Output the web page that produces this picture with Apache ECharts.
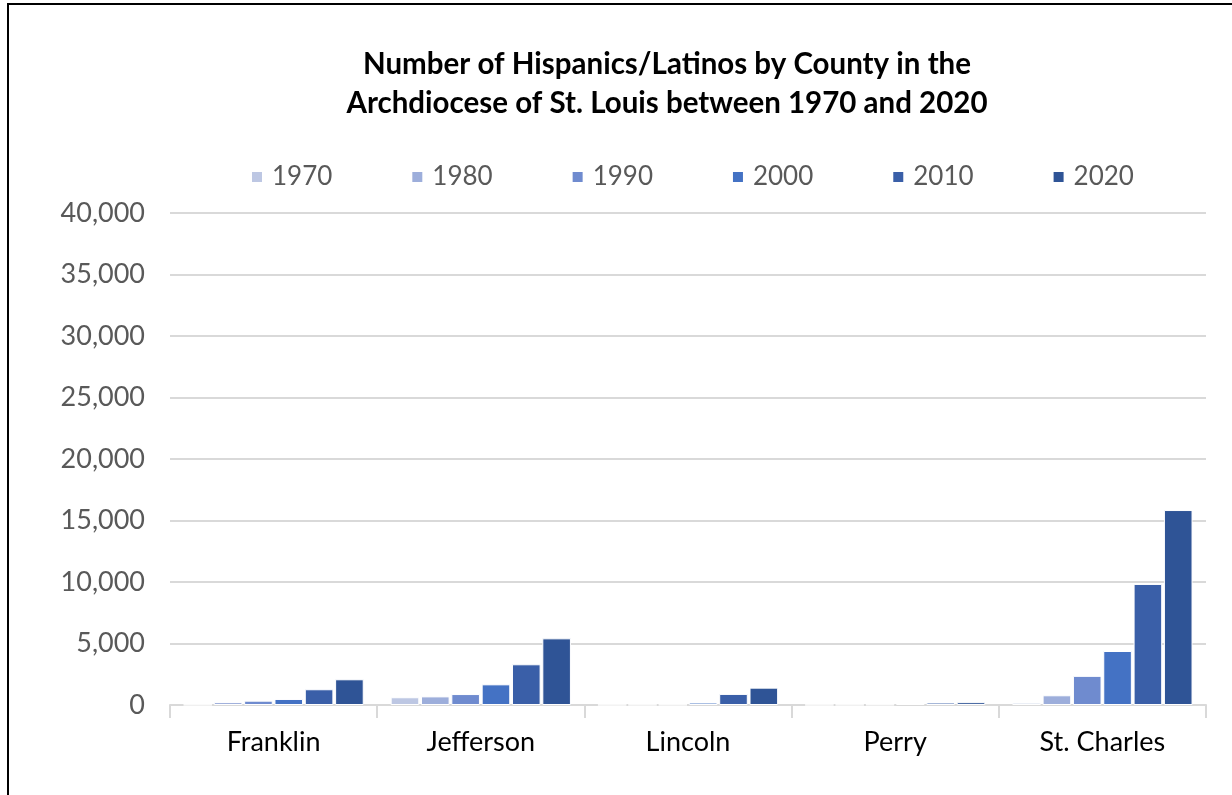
<!DOCTYPE html>
<html><head><meta charset="utf-8">
<script src="https://cdn.jsdelivr.net/npm/echarts@6/dist/echarts.min.js"></script>
<style>html,body{margin:0;padding:0;background:#fff}
#frame{position:absolute;left:7px;top:3px;width:1225px;height:792px;border-left:2px solid #000;border-top:2px solid #000;box-sizing:border-box}
#c{position:absolute;left:0;top:0;width:1232px;height:795px}</style>
</head><body><div id="frame"></div><div id="c"></div>
<script>
const categories = ['Franklin', 'Jefferson', 'Lincoln', 'Perry', 'St. Charles'];
const years = ['1970', '1980', '1990', '2000', '2010', '2020'];
const v1970 = [20, 630, 10, 10, 190];
const v1980 = [240, 700, 15, 15, 790];
const v1990 = [350, 890, 20, 30, 2370];
const v2000 = [490, 1680, 200, 80, 4390];
const v2010 = [1280, 3310, 900, 200, 9840];
const v2020 = [2090, 5420, 1410, 230, 15850];
const yTicks = [0, 5000, 10000, 15000, 20000, 25000, 30000, 35000, 40000];
const colors = ['#BDC7E3', '#9DAEDB', '#6F8BCF', '#4472C4', '#3A5FA8', '#2F5496'];
const seriesValues = [v1970, v1980, v1990, v2000, v2010, v2020];

const font = 'Lato, "Open Sans", sans-serif';
const chart = echarts.init(document.getElementById('c'), null, {renderer: 'canvas'});
chart.setOption({
  animation: false,
  title: {
    text: 'Number of Hispanics/Latinos by County in the\nArchdiocese of St. Louis between 1970 and 2020',
    left: 662, top: 40, textAlign: 'center',
    textStyle: {fontFamily: font, fontSize: 29.5, fontWeight: 'bold', color: '#000', lineHeight: 39}
  },
  legend: {
    data: years, top: 159, left: 245, itemGap: 78,
    itemWidth: 12, itemHeight: 12, icon: 'rect',
    textStyle: {fontFamily: font, fontSize: 26, color: '#595959', padding: [0, 0, 0, 4]}
  },
  grid: {left: 170, right: 26, top: 213, bottom: 90, containLabel: false},
  xAxis: {
    type: 'category', data: categories,
    axisLine: {lineStyle: {color: '#D9D9D9', width: 2}},
    axisTick: {show: true, length: 13, lineStyle: {color: '#D9D9D9', width: 2}},
    axisLabel: {fontFamily: font, fontSize: 27, color: '#000', margin: 24}
  },
  yAxis: {
    type: 'value', min: yTicks[0], max: yTicks[yTicks.length - 1], interval: 5000,
    axisLine: {show: false}, axisTick: {show: false},
    splitLine: {lineStyle: {color: '#D9D9D9', width: 2}},
    axisLabel: {fontFamily: font, fontSize: 27, color: '#595959', margin: 25,
      formatter: v => v.toLocaleString('en-US')}
  },
  series: years.map((y, i) => ({
    name: y, type: 'bar', data: seriesValues[i],
    barCategoryGap: '13%', barGap: '6%',
    itemStyle: {color: colors[i], borderColor: '#fff', borderWidth: 1}
  }))
});
</script></body></html>
